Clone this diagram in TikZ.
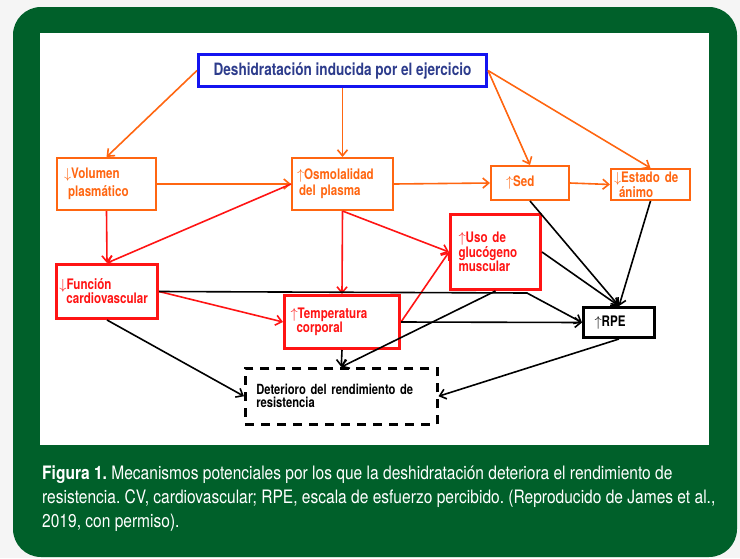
\documentclass[tikz,border=0pt]{standalone}
\usepackage{fontspec}
\setmainfont{TeX Gyre Heros}[FakeStretch=0.8]
\newfontfamily\capfont{TeX Gyre Heros}[FakeStretch=0.84]
\usetikzlibrary{arrows.meta}

\definecolor{framegreen}{RGB}{0,96,42}
\definecolor{pagegray}{RGB}{245,245,245}
\definecolor{dorange}{RGB}{255,102,17}
\definecolor{dred}{RGB}{255,20,20}
\definecolor{dblue}{RGB}{20,20,240}
\definecolor{dbluetext}{RGB}{45,60,140}

\tikzset{
  lbl/.style = {anchor=north west, align=left, inner ysep=0pt, font=\bfseries\fontsize{14.5}{14}\selectfont},
  obox/.style = {lbl, draw=dorange, line width=2pt, text=dorange},
  rbox/.style = {lbl, draw=dred, line width=3pt, text=dred},
  kbox/.style = {lbl, draw=black, line width=3pt},
  oarr/.style = {->, dorange, line width=1.6pt},
  rarr/.style = {->, dred, line width=1.6pt},
  karr/.style = {->, black, line width=1.6pt},
}

\begin{document}
\frenchspacing
\begin{tikzpicture}[x=1pt, y=-1pt, >={Straight Barb[length=6pt,width=10pt]}]
\useasboundingbox (0,0) rectangle (740,558);
\fill[pagegray] (0,0) rectangle (740,558);
\fill[framegreen, rounded corners=28pt] (13,7) rectangle (737,557);
\fill[white] (40,33) rectangle (709,445);

% boxes
\node (desh) [lbl, draw=dblue, line width=3pt, text=dbluetext, align=center, minimum width=288pt, minimum height=32pt, font=\bfseries\fontsize{17}{18}\selectfont] at (197,53) {Deshidratación inducida por el ejercicio};
\node (vol) [obox, inner xsep=7pt, text width=85pt, minimum height=52pt, font=\bfseries\fontsize{14.5}{18}\selectfont] at (56,157) {$\downarrow$Volumen\\\hspace*{4pt}plasmático};
\node (osm) [obox, inner xsep=5pt, text width=91pt, minimum height=52pt, font=\bfseries\fontsize{14.5}{16}\selectfont] at (291,157) {$\uparrow$Osmolalidad\\\hspace*{2pt}del plasma};
\node (sed) [obox, inner xsep=15pt, text width=48pt, minimum height=34pt] at (490,165) {$\uparrow$Sed};
\node (animo) [obox, inner xsep=3pt, text width=73pt, minimum height=31pt, font=\bfseries\fontsize{14.5}{13}\selectfont] at (610,168) {$\downarrow$Estado de\\\hspace*{5pt}ánimo};
\node (cardio) [rbox, inner xsep=3pt, text width=95pt, minimum height=54pt] at (55,263) {$\downarrow$Función\\\hspace*{7pt}cardiovascular};
\node (temp) [rbox, inner xsep=6pt, text width=103pt, minimum height=53pt] at (283,294) {$\uparrow$Temperatura\\\hspace*{6pt}corporal};
\node (gluc) [rbox, inner xsep=8pt, text width=74pt, minimum height=75pt, font=\bfseries\fontsize{14.5}{13.5}\selectfont] at (449,213) {$\uparrow$Uso de\\glucógeno\\muscular};
\node (rpe) [kbox, inner xsep=11pt, text width=49pt, minimum height=30pt] at (582,306) {$\uparrow$RPE};
\node (det) [lbl, draw=black, line width=2.5pt, dash pattern=on 9pt off 7pt, inner xsep=11pt, text width=170pt, minimum height=56pt, font=\bfseries\fontsize{14}{13}\selectfont] at (244,367) {Deterioro del rendimiento de\\resistencia};
\coordinate (kink) at (527,293);

% orange arrows
\draw[oarr] (desh.west) -- (vol.north);
\draw[oarr] (desh.south) -- (osm.north);
\draw[oarr] (desh.east) -- (sed.north);
\draw[oarr] (desh.east) -- (animo.north);
\draw[oarr] (vol.east) -- (osm.west);
\draw[oarr] (osm.east) -- (sed.west);
\draw[oarr] (sed.east) -- (animo.west);

% red arrows
\draw[rarr] (vol.south) -- (cardio.north);
\draw[rarr] (osm.west) -- (cardio.north);
\draw[rarr] (osm.south) -- (temp.north);
\draw[rarr] (osm.south) -- (gluc.west);
\draw[rarr] (cardio.east) -- (temp.west);
\draw[rarr] (temp.east) -- (gluc.west);

% black arrows
\draw[karr] (cardio.east) -- (kink) -- (rpe.west);
\draw[karr] (temp.east) -- (rpe.west);
\draw[karr] (gluc.south) -- (det.north);
\draw[karr] (temp.south) -- (det.north);
\draw[karr] (cardio.south) -- (det.west);
\draw[karr] (rpe.south) -- (det.east);
\draw[karr] (sed.south) -- (rpe.north);
\draw[karr] (animo.south) -- (rpe.north);
\draw[karr] (gluc.east) -- (rpe.north);

% caption
\node (caption) [anchor=base west, text=white, align=left, inner sep=0pt, font=\capfont\fontsize{18.5}{24}\selectfont] at (42,527) {\textbf{Figura 1.} Mecanismos potenciales por los que la deshidratación deteriora el rendimiento de\\resistencia. CV, cardiovascular; RPE, escala de esfuerzo percibido. (Reproducido de James et al.,\\2019, con permiso).};
\end{tikzpicture}
\end{document}
